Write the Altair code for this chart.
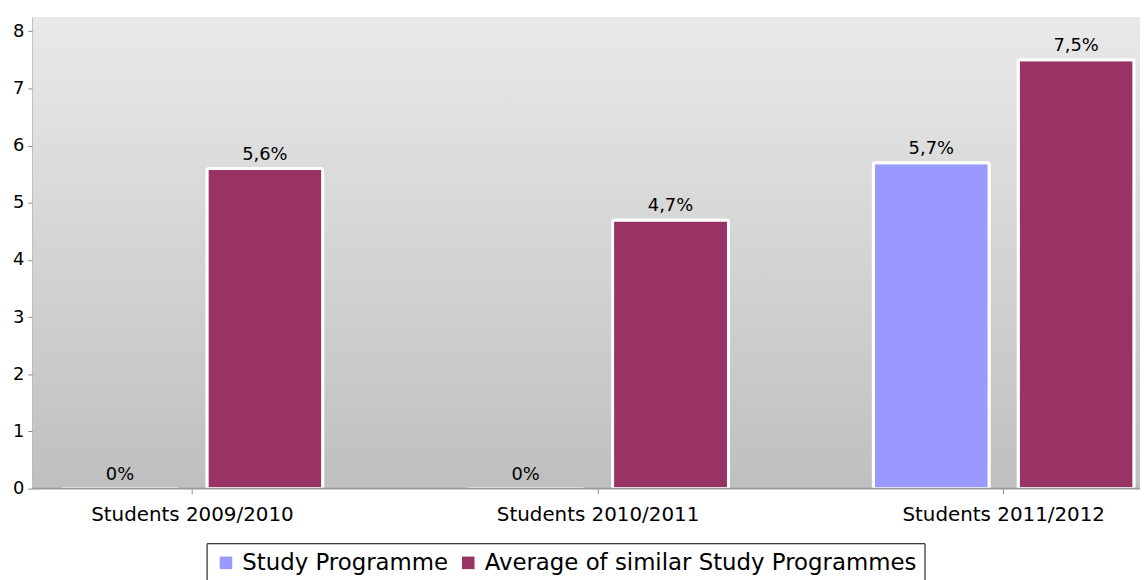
import altair as alt
import pandas as pd

years = ["Students 2009/2010", "Students 2010/2011", "Students 2011/2012"]
series_names = ["Study Programme", "Average of similar Study Programmes"]
study_values = [0.0, 0.0, 5.7]
average_values = [5.6, 4.7, 7.5]
colors = ["#9999ff", "#993366"]
y_ticks = [0, 1, 2, 3, 4, 5, 6, 7, 8]

rows = []
for i, yr in enumerate(years):
    for name, vals in zip(series_names, [study_values, average_values]):
        v = vals[i]
        lab = (f"{v:g}".replace(".", ",")) + "%"
        rows.append({"year": yr, "series": name, "value": v, "label": lab})
df = pd.DataFrame(rows)

W = 1115
H = 475
FONT = "DejaVu Sans"

xscale = alt.Scale(domain=years, range=[-43.5, 1182], paddingInner=0, paddingOuter=0)
xoff = alt.Scale(domain=series_names, paddingInner=0.2, paddingOuter=0.5)
yscale = alt.Scale(domain=[0, 8.25], nice=False, zero=True)

bg = alt.Chart(alt.Data(values=[{"a": 1}])).mark_rect(
    fill=alt.Gradient(
        gradient="linear",
        stops=[alt.GradientStop(color="#e9e9e9", offset=0),
               alt.GradientStop(color="#bfbfbf", offset=1)],
        x1=0, x2=0, y1=0, y2=1,
    )
).encode(x=alt.value(0), x2=alt.value(W), y=alt.value(0), y2=alt.value(H))

base = alt.Chart(df)

bars = base.mark_bar(stroke="white", strokeWidth=3, cornerRadius=2).encode(
    x=alt.X("year:N", scale=xscale, sort=years, title=None,
            axis=alt.Axis(labelAngle=0, labelFontSize=20, labelFont=FONT, labelColor="black",
                          domain=False, ticks=True, tickColor="#888888", tickSize=5,
                          labelPadding=11, grid=False, labelLimit=0, labelOverlap=False)),
    xOffset=alt.XOffset("series:N", scale=xoff, sort=series_names),
    y=alt.Y("value:Q", scale=yscale, title=None,
            axis=alt.Axis(values=y_ticks, format="d", labelFontSize=18, labelFont=FONT,
                          labelColor="black",
                          domain=True, domainColor="#999999", domainWidth=2,
                          tickColor="#888888", tickSize=5, labelPadding=4,
                          grid=True, gridColor="white", gridDash=[5, 3], gridWidth=1)),
    color=alt.Color("series:N", scale=alt.Scale(domain=series_names, range=colors),
                    title=None,
                    legend=alt.Legend(orient="none", direction="horizontal",
                                      legendX=175, legendY=530,
                                      labelFont=FONT, labelFontSize=23, labelColor="black",
                                      labelLimit=0,
                                      symbolType="square", symbolSize=160, symbolStrokeWidth=0,
                                      labelOffset=5, columnPadding=8,
                                      strokeColor="black", padding=8,
                                      fillColor="white")),
)

texts = base.mark_text(baseline="bottom", dy=-5, font=FONT, fontSize=18, color="black").encode(
    x=alt.X("year:N", scale=xscale, sort=years),
    xOffset=alt.XOffset("series:N", scale=xoff, sort=series_names),
    y=alt.Y("value:Q", scale=yscale),
    text="label:N",
)

axis_line = alt.Chart(alt.Data(values=[{"a": 1}])).mark_rule(color="#999999", strokeWidth=2).encode(
    x=alt.value(0), x2=alt.value(W), y=alt.value(H)
)

chart = alt.layer(bg, bars, texts, axis_line).properties(
    width=W, height=H,
    autosize=alt.AutoSizeParams(type="none"),
    padding={"left": 25, "top": 7, "right": 0, "bottom": 90},
).configure_view(stroke=None)

chart.save("out.html", embed_options={"renderer": "svg", "actions": False})
